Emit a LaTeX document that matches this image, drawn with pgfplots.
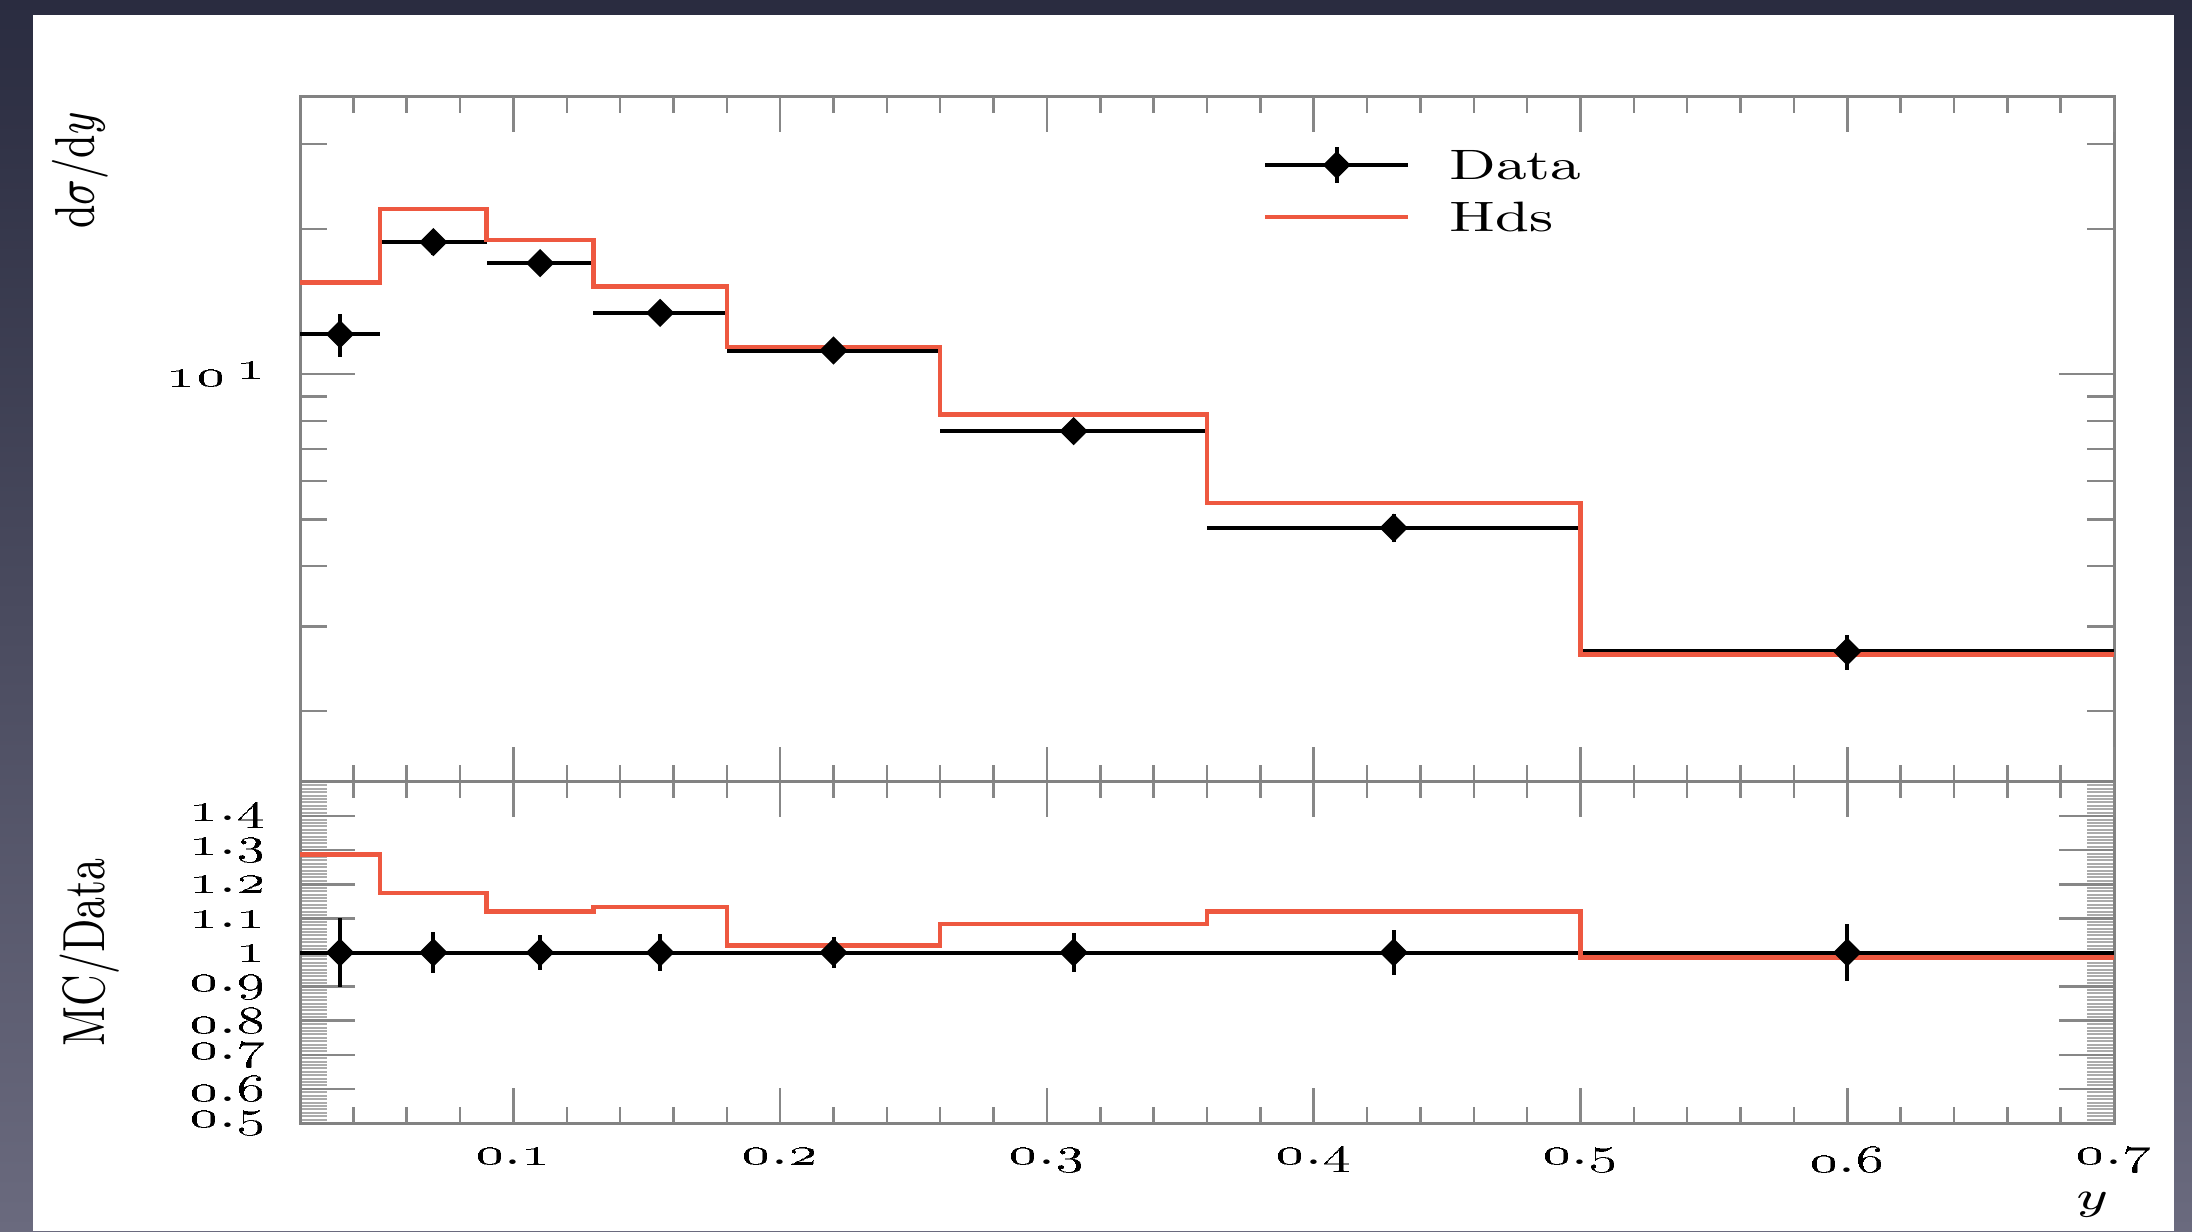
\documentclass[border=0pt]{standalone}
\usepackage{graphicx}
\usepackage{pgfplots}
\usepackage{pgfplotstable}
\pgfplotsset{compat=1.18}

\definecolor{hds}{RGB}{238,88,64}
\definecolor{axgray}{RGB}{130,130,130}
\definecolor{tkgray}{RGB}{135,135,135}
\definecolor{slidetop}{RGB}{42,44,64}
\definecolor{slidebot}{RGB}{106,106,126}

% the slide stretches the plot sideways, so stretch the text the same way
\newcommand\sx[1]{\scalebox{1.4}[1]{#1}}
\newcommand\sy[1]{\scalebox{1}[1.4]{#1}}
\newcommand\os[2]{\oldstylenums{#1}.\oldstylenums{#2}}

% y bins: centre, value, half width, error
\pgfplotstableread{
x     y     ex    ey
0.035 12.1  0.015 1.22
0.07  18.8  0.02  1.11
0.11  17.0  0.02  0.88
0.155 13.4  0.025 0.71
0.22  11.2  0.04  0.52
0.31  7.62  0.05  0.43
0.43  4.80  0.07  0.32
0.6   2.66  0.1   0.22
}\datatop

\pgfplotstableread{
x     y  ex    ey
0.035 1  0.015 0.101
0.07  1  0.02  0.059
0.11  1  0.02  0.052
0.155 1  0.025 0.053
0.22  1  0.04  0.046
0.31  1  0.05  0.057
0.43  1  0.07  0.066
0.6   1  0.1   0.084
}\dataratio

% Hds histogram, left bin edges (last row closes the final bin)
\pgfplotstableread{
x    y
0.02 15.5
0.05 22.0
0.09 19.0
0.13 15.2
0.18 11.4
0.26 8.26
0.36 5.40
0.5  2.62
0.7  2.62
}\hdstop

\pgfplotstableread{
x    y
0.02 1.288
0.05 1.175
0.09 1.12
0.13 1.134
0.18 1.02
0.26 1.083
0.36 1.12
0.5  0.985
0.7  0.985
}\hdsratio

\pgfplotsset{
  panel/.style={
    scale only axis, width=362.8pt, anchor=south west,
    xmin=0.02, xmax=0.7,
    axis line style={draw=axgray, line width=0.6pt},
    tick style={draw=tkgray, line width=0.5pt},
    tick align=inside,
  },
  ytickset/.style={major tick length=11pt, minor tick length=5.4pt,
    yticklabel style={xshift=-3.8pt}},
  xtickset/.style={
    ytick=\empty, ymin=0, ymax=1,
    axis line style={draw=none},
    major tick length=7pt, minor tick length=3.3pt,
    xtick={0.1,0.2,0.3,0.4,0.5,0.6,0.7},
    minor xtick={0.04,0.06,0.08,0.12,0.14,0.16,0.18,0.22,0.24,0.26,0.28,
      0.32,0.34,0.36,0.38,0.42,0.44,0.46,0.48,0.52,0.54,0.56,0.58,
      0.62,0.64,0.66,0.68},
  },
  dataplot/.style={only marks, black, mark=square*, mark size=1.8pt,
    mark options={rotate=45, fill=black, draw=black},
    error bars/x dir=both, error bars/x explicit,
    error bars/y dir=both, error bars/y explicit,
    error bars/error mark=none,
    error bars/error bar style={line width=0.8pt, black}},
}

\begin{document}
\fontsize{8.5}{10}\selectfont
\begin{tikzpicture}
\shade[top color=slidetop, bottom color=slidebot] (0,0) rectangle (438.4pt,246.2pt);
\fill[white] (6.6pt,0pt) rectangle (434.8pt,243.2pt);

% upper panel
\begin{axis}[panel, ytickset, at={(60pt,89.8pt)}, height=137pt,
  ymode=log, ymin=1.426, ymax=37.6,
  xtick=\empty,
  ytick={10}, yticklabels={\sx{\oldstylenums{10}\,\raisebox{0.45ex}{\oldstylenums{1}}}},
  minor ytick={2,3,4,5,6,7,8,9,20,30},
  ylabel={\sy{$\mathrm{d}\sigma/\mathrm{d}y$}},
  every axis y label/.style={at={(axis description cs:-0.1213,1)}, rotate=90, anchor=east},
  legend style={draw=none, fill=none, inner sep=0pt,
    at={(axis description cs:0.5303,0.8628)}, anchor=west,
    nodes={inner sep=1pt, text height=6pt, text depth=0pt},
    row sep=2.4pt,
    /tikz/every odd column/.append style={column sep=6.8pt}},
  legend cell align=left,
]
\addplot[
  legend image code/.code={
    \draw[black, line width=0.8pt] (0pt,0pt) -- (28.6pt,0pt);
    \draw[black, line width=0.8pt] (14.3pt,-3.6pt) -- (14.3pt,3.6pt);
    \fill[black] (14.3pt,2.5pt) -- (16.8pt,0pt) -- (14.3pt,-2.5pt) -- (11.8pt,0pt) -- cycle;},
  dataplot]
  table[x=x, y=y, x error=ex, y error=ey] {\datatop};
\addlegendentry{\sx{Data}}
\addplot[const plot, hds, line width=0.9pt,
  legend image code/.code={\draw[hds, line width=0.9pt] (0pt,0pt) -- (28.6pt,0pt);}]
  table[x=x, y=y] {\hdstop};
\addlegendentry{\sx{Hds}}
\end{axis}
\begin{axis}[panel, xtickset, at={(60pt,89.8pt)}, height=137pt, xticklabels={}]
\end{axis}

% ratio panel
\begin{axis}[panel, ytickset, at={(60pt,21.6pt)}, height=68.2pt,
  ymin=0.5, ymax=1.5,
  xtick=\empty,
  ytick={0.5,0.6,0.7,0.8,0.9,1.0,1.1,1.2,1.3,1.4,1.5},
  yticklabels={\sx{\os{0}{5}}, \sx{\os{0}{6}}, \sx{\os{0}{7}}, \sx{\os{0}{8}},
    \sx{\os{0}{9}}, \sx{\oldstylenums{1}}, \sx{\os{1}{1}}, \sx{\os{1}{2}},
    \sx{\os{1}{3}}, \sx{\os{1}{4}}, {}},
  minor y tick num=9,
  minor tick style={draw=tkgray!70, line width=0.4pt},
  ylabel={\sy{MC/Data}},
  every axis y label/.style={at={(axis description cs:-0.1158,0.5)}, rotate=90, anchor=center},
]
\addplot[dataplot] table[x=x, y=y, x error=ex, y error=ey] {\dataratio};
\addplot[const plot, hds, line width=0.9pt] table[x=x, y=y] {\hdsratio};
\end{axis}
\begin{axis}[panel, xtickset, at={(60pt,21.6pt)}, height=68.2pt,
  xticklabels={\sx{\os{0}{1}}, \sx{\os{0}{2}}, \sx{\os{0}{3}}, \sx{\os{0}{4}},
    \sx{\os{0}{5}}, \sx{\os{0}{6}}, \sx{\os{0}{7}}},
  xticklabel style={yshift=-1.8pt},
  xlabel={\sx{$y$}},
  every axis x label/.style={at={(axis description cs:0.988,-0.24)}, anchor=center},
]
\end{axis}
\end{tikzpicture}
\end{document}
